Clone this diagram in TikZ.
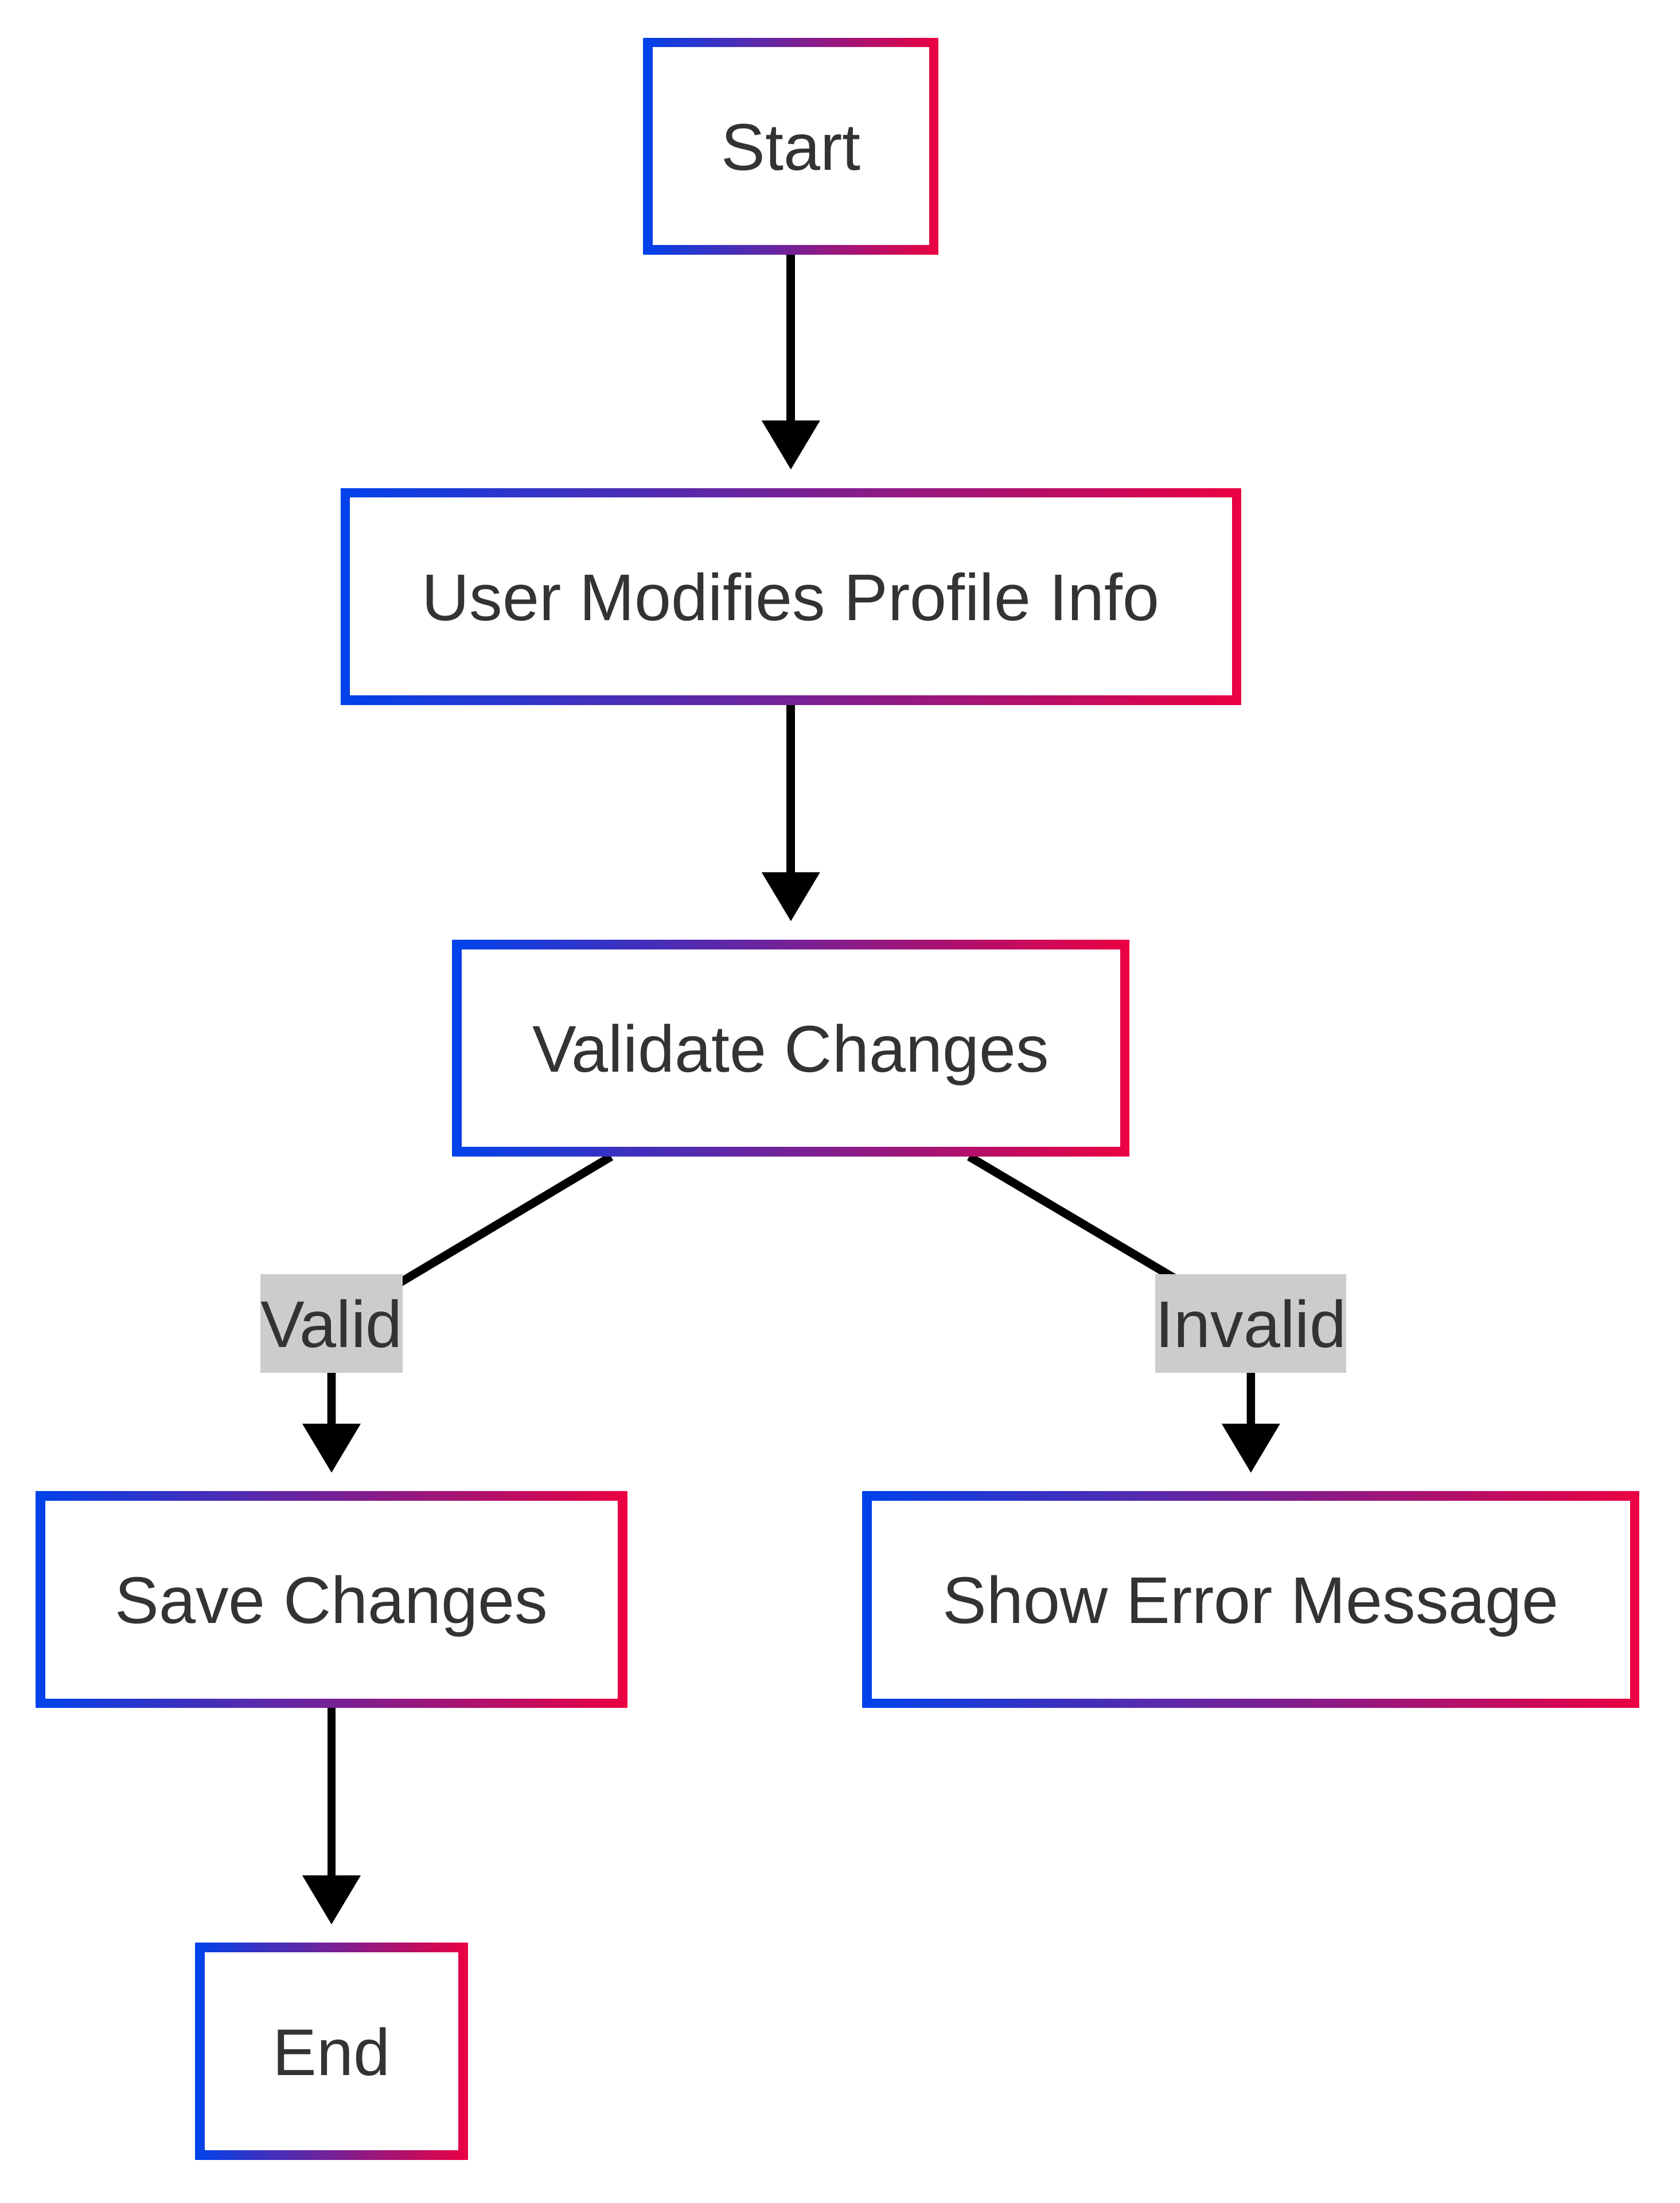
\documentclass[tikz,border=0pt]{standalone}
\usepackage{fontspec}
\setmainfont{Liberation Sans}
\usetikzlibrary{arrows.meta, positioning, backgrounds}
\definecolor{gradL}{RGB}{0,66,235}
\definecolor{gradR}{RGB}{235,0,66}
\definecolor{txtgray}{RGB}{51,51,51}
\definecolor{lblgray}{RGB}{204,204,204}
\tikzset{
  flowbox/.style={rectangle, inner sep=0pt, minimum height=154pt,
    left color=gradL, right color=gradR, text=txtgray,
    font=\fontsize{47}{56}\selectfont, text height=34pt, text depth=0pt,
    path picture={\fill[white]
      ([shift={(6.6pt,6.6pt)}]path picture bounding box.south west) rectangle
      ([shift={(-6.6pt,-6.6pt)}]path picture bounding box.north east);}},
  edgelbl/.style={rectangle, fill=lblgray, text=txtgray, inner xsep=0pt,
    minimum height=70pt, font=\fontsize{47}{56}\selectfont,
    text height=34pt, text depth=0pt},
  flow/.style={line width=6pt, -{Triangle[length=35pt,width=40pt]}, shorten >=13pt}
}

\begin{document}
\begin{tikzpicture}[x=1pt, y=-1pt]
\useasboundingbox (0,0) rectangle (1196,1568);

\node[flowbox, minimum width=210pt] (start) at (563,104) {Start};
\node[flowbox, minimum width=641pt] (modify) at (563,424.5) {User Modifies Profile Info};
\node[flowbox, minimum width=482pt] (validate) at (563,746) {Validate Changes};
\node[flowbox, minimum width=421pt] (save) at (236,1138.5) {Save Changes};
\node[flowbox, minimum width=553pt] (showerr) at (890.5,1138.5) {Show Error Message};
\node[flowbox, minimum width=194pt] (end) at (236,1460) {End};

\node[edgelbl] (lblValid) at (236,942) {Valid};
\node[edgelbl] (lblInvalid) at (890.5,942) {Invalid};

\begin{scope}[on background layer]
\draw[flow] (start.south) -- (modify.north);
\draw[flow] (modify.south) -- (validate.north);
\draw[flow] ([xshift=-128pt]validate.south) -- (lblValid.center) -- (save.north);
\draw[flow] ([xshift=127pt]validate.south) -- (lblInvalid.center) -- (showerr.north);
\draw[flow] (save.south) -- (end.north);
\end{scope}
\end{tikzpicture}
\end{document}
